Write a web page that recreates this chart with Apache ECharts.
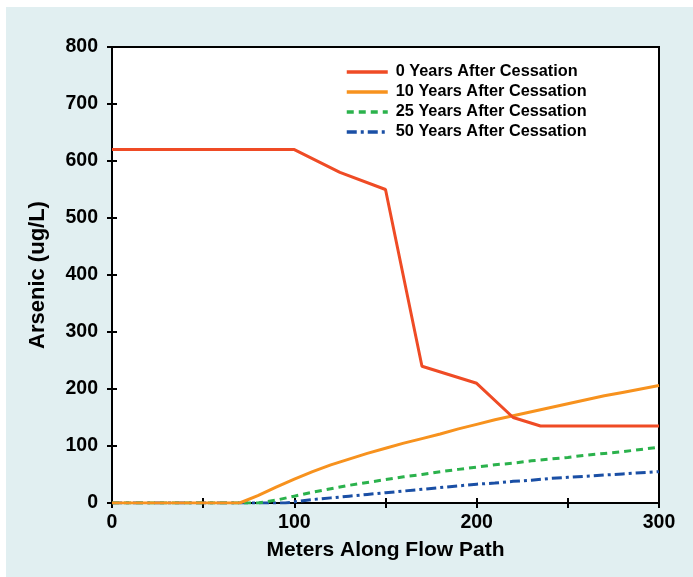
<!DOCTYPE html>
<html>
<head>
<meta charset="utf-8">
<script src="https://cdn.jsdelivr.net/npm/echarts@6/dist/echarts.min.js"></script>
<style>
html,body{margin:0;padding:0;background:#ffffff;}
#wrap{position:absolute;left:6px;top:7px;width:687px;height:570px;background:#e1eff1;}
#chart{position:absolute;left:0;top:0;width:693px;height:577px;}
</style>
</head>
<body>
<div id="wrap"></div>
<div id="chart"></div>
<script>
const seriesNames = ['0 Years After Cessation','10 Years After Cessation','25 Years After Cessation','50 Years After Cessation'];
const xRed = [0,100,125,150,170,200,220,235,300];
const yRed = [620,620,580,550,240,210,150,135,135];
const xCurve = [0,70,80,90,100,110,120,130,140,150,160,170,180,190,200,210,220,230,240,250,260,270,280,290,300];
const yOrange = [0,0,13,28,42,55,67,77,87,96,105,113,121,130,138,146,153,160,167,174,181,188,194,200,206];
const xGreen = [0,80,90,100,110,120,130,140,150,160,170,180,190,200,210,220,230,240,250,260,270,280,290,300];
const yGreen = [0,0,5,12,19,25,31,36,41,46,50,55,59,63,67,70,74,77,80,84,87,90,94,98];
const xBlue = [0,95,100,110,120,130,140,150,160,170,180,190,200,210,220,230,240,250,260,270,280,290,300];
const yBlue = [0,0,2,6,9,12,15,18,21,24,27,30,33,35,38,40,43,45,47,49,51,53,55];
const xTickLabels = [0,100,200,300];
const colors = ['#ef4b25','#f7921e','#2bb24c','#1a4fa5'];

function pairs(xs, ys){ return xs.map((x,i)=>[x, ys[i]]); }

const chart = echarts.init(document.getElementById('chart'), null, {renderer:'canvas'});
const font = '"Liberation Sans", Arial, sans-serif';
const axisCommon = {
  axisLine:{show:true, lineStyle:{color:'#000', width:2}},
  axisTick:{show:true, inside:true, length:5, lineStyle:{color:'#000', width:2}},
  splitLine:{show:false}
};
chart.setOption({
  backgroundColor:'transparent',
  animation:false,
  grid:{left:112, right:34, top:47, bottom:74, show:true, backgroundColor:'#ffffff', borderColor:'#000', borderWidth:2},
  legend:{
    orient:'vertical', left:340, top:59, itemWidth:41, itemHeight:16, itemGap:4,
    data:seriesNames,
    itemStyle:{opacity:0},
    lineStyle:{width:3.5},
    textStyle:{fontFamily:font, fontWeight:'bold', fontSize:16.3, color:'#000', padding:[0,0,0,3]}
  },
  xAxis:[
    Object.assign({type:'value', min:0, max:300, interval:50, position:'bottom',
      name:'Meters Along Flow Path', nameLocation:'middle', nameGap:37,
      nameTextStyle:{fontFamily:font, fontWeight:'bold', fontSize:21, color:'#000'},
      axisLabel:{fontFamily:font, fontWeight:'bold', fontSize:19.5, color:'#000', margin:10,
        formatter:function(v){ return xTickLabels.indexOf(v)>=0 ? String(v) : ''; }}
    }, axisCommon),
    Object.assign({type:'value', min:0, max:300, interval:50, position:'top', axisLabel:{show:false}}, axisCommon)
  ],
  yAxis:[
    Object.assign({type:'value', min:0, max:800, interval:100, position:'left',
      name:'Arsenic (ug/L)', nameLocation:'middle', nameGap:63, nameRotate:90,
      nameTextStyle:{fontFamily:font, fontWeight:'bold', fontSize:22, color:'#000'},
      axisLabel:{fontFamily:font, fontWeight:'bold', fontSize:19.5, color:'#000', margin:14}
    }, axisCommon),
    Object.assign({type:'value', min:0, max:800, interval:100, position:'right', axisLabel:{show:false}}, axisCommon)
  ],
  series:[
    {name:seriesNames[0], type:'line', data:pairs(xRed,yRed), showSymbol:false, symbol:'none',
      lineStyle:{color:colors[0], width:3}, itemStyle:{color:colors[0]}, z:5},
    {name:seriesNames[1], type:'line', data:pairs(xCurve,yOrange), showSymbol:false, symbol:'none',
      lineStyle:{color:colors[1], width:3}, itemStyle:{color:colors[1]}, z:4},
    {name:seriesNames[2], type:'line', data:pairs(xGreen,yGreen), showSymbol:false, symbol:'none',
      lineStyle:{color:colors[2], width:3, type:[7,5]}, itemStyle:{color:colors[2]}, z:3},
    {name:seriesNames[3], type:'line', data:pairs(xBlue,yBlue), showSymbol:false, symbol:'none',
      lineStyle:{color:colors[3], width:3, type:[10,4,3,4]}, itemStyle:{color:colors[3]}, z:2}
  ]
});
</script>
</body>
</html>
